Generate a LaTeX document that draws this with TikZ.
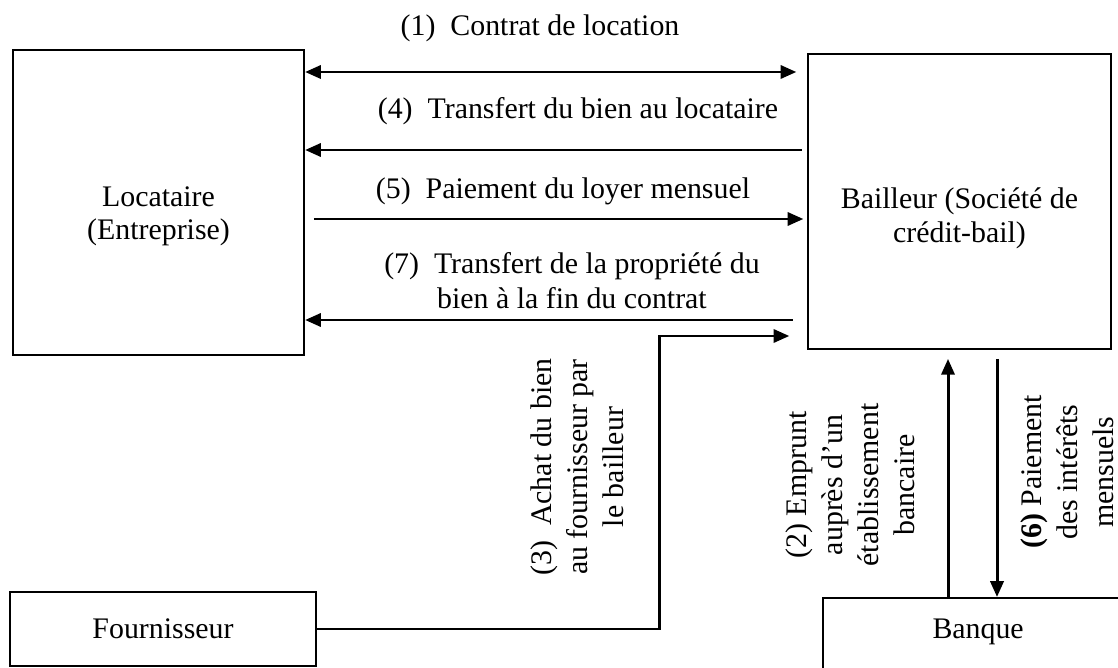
\documentclass[tikz,border=0pt]{standalone}
\usepackage{fontspec}
\setmainfont{Liberation Serif}
\usetikzlibrary{arrows.meta}

\begin{document}
\begin{tikzpicture}[x=0.02cm,y=-0.02cm,>={Triangle[length=9pt,width=7.5pt]},
	every node/.style={font=\fontsize{17}{20}\selectfont},
	box/.style={draw,line width=1.3pt,align=center,inner sep=3pt,font=\fontsize{17}{19}\selectfont},
	arr/.style={line width=1.7pt,->},
	rot/.style={align=center,rotate=90,font=\fontsize{17}{20.5}\selectfont}]
	\useasboundingbox (0,0) rectangle (1118,668);
	\clip (0,0) rectangle (1118,668);
	\node[box,minimum width=5.82cm,minimum height=6.1cm,text height=46pt] (loc) at (158.5,202.5) {Locataire\\(Entreprise)};
	\node[box,minimum width=6.06cm,minimum height=5.9cm,text height=50pt] (bail) at (959.5,201.5) {Bailleur (Société de\\crédit-bail)};
	\node[box,minimum width=6.12cm,minimum height=1.48cm] (four) at (163,629) {Fournisseur};
	\node[box,anchor=north west,minimum width=6.2cm,text height=20pt,text depth=20pt] (banque) at (822,597) {Banque};
	\coordinate (c1) at (0,72); \coordinate (c4) at (0,150); \coordinate (c5) at (0,219);
	\coordinate (c7) at (0,320); \coordinate (c3) at (659,336);
	\coordinate (c2) at (948,0); \coordinate (c6) at (997,0);
	\draw[arr,<->,shorten >=6pt] (loc.east |- c1) -- (bail.west |- c1);
	\draw[arr,shorten <=3pt] (bail.west |- c4) -- (loc.east |- c4);
	\draw[arr,shorten <=5pt,shorten >=2pt] (loc.east |- c5) -- (bail.west |- c5);
	\draw[arr,shorten <=8pt] (bail.west |- c7) -- (loc.east |- c7);
	\draw[arr,shorten >=10pt] (four.east) -| (c3) -- (bail.west |- c3);
	\draw[arr,shorten >=5pt] (banque.north -| c2) -- (bail.south -| c2);
	\draw[arr,shorten <=5pt] (bail.south -| c6) -- (banque.north -| c6);
	\node (t1) at (540,28) {(1)~~Contrat de location};
	\node (t4) at (578,111) {(4)~~Transfert du bien au locataire};
	\node (t5) at (563,191) {(5)~~Paiement du loyer mensuel};
	\node[align=center] (t7) at (572,281) {(7)~~Transfert de la propriété du\\bien à la fin du contrat};
	\node[rot] (t3) at (577,467) {(3)~~Achat du bien\\au fournisseur par\\le bailleur};
	\node[rot] (t2) at (850,485) {(2) Emprunt\\auprès d'un\\établissement\\bancaire};
	\node[rot] (t6) at (1067,472) {\textbf{(6)} Paiement\\des intérêts\\mensuels};
\end{tikzpicture}
\end{document}
